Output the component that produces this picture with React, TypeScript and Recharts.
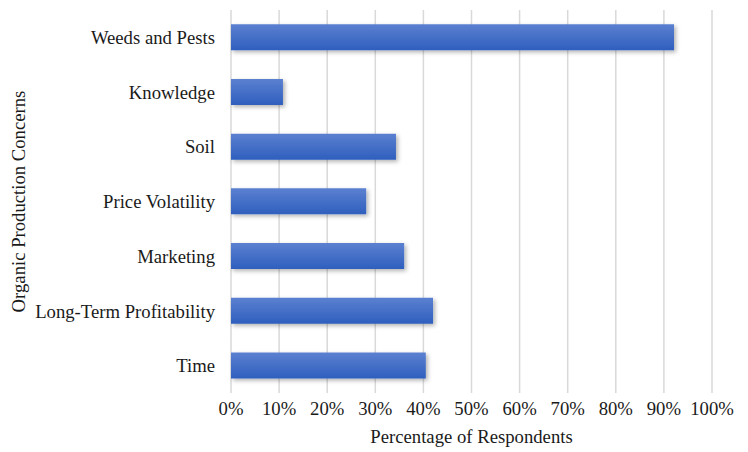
import { BarChart, Bar, XAxis, YAxis, CartesianGrid, Label } from "recharts";

const concerns = [
  "Weeds and Pests",
  "Knowledge",
  "Soil",
  "Price Volatility",
  "Marketing",
  "Long-Term Profitability",
  "Time",
];
const shares = [0.921, 0.108, 0.343, 0.281, 0.36, 0.42, 0.405];
const pctTicks = [0, 0.1, 0.2, 0.3, 0.4, 0.5, 0.6, 0.7, 0.8, 0.9, 1];

const data = concerns.map((name, i) => ({ name, value: shares[i] }));

const font = "Liberation Serif";
const fs = 18.7;

const App = () => {
  return (
    <div style={{ position: "absolute", left: 0, top: 0, background: "#fff" }}>
      <BarChart
        width={748}
        height={452}
        data={data}
        layout="vertical"
        barCategoryGap="26%"
        margin={{ top: 10, right: 36, left: 8, bottom: 9 }}
      >
        <defs>
          <linearGradient id="barFill" x1="0" y1="0" x2="0" y2="1">
            <stop offset="0%" stopColor="#5b80d0" />
            <stop offset="100%" stopColor="#2f5fbe" />
          </linearGradient>
          <filter id="barShadow" x="-5%" y="-20%" width="115%" height="160%">
            <feDropShadow dx="2" dy="2" stdDeviation="2" floodColor="#000" floodOpacity="0.3" />
          </filter>
        </defs>
        <CartesianGrid horizontal={false} stroke="#d9d9d9" strokeWidth={1.5} />
        <XAxis
          type="number"
          domain={[0, 1]}
          ticks={pctTicks}
          tickFormatter={(v: number) => `${Math.round(v * 100)}%`}
          axisLine={false}
          tickLine={false}
          tickMargin={3}
          height={50}
          tick={{ fill: "#1a1a1a", fontSize: fs, fontFamily: font }}
        >
          <Label
            content={({ viewBox }: any) => (
              <text
                x={viewBox.x + viewBox.width / 2}
                y={viewBox.y + 50}
                textAnchor="middle"
                fill="#1a1a1a"
                fontSize={fs}
                fontFamily={font}
              >
                Percentage of Respondents
              </text>
            )}
          />
        </XAxis>
        <YAxis
          type="category"
          dataKey="name"
          width={223}
          axisLine={false}
          tickLine={false}
          tickMargin={10}
          interval={0}
          tick={{ fill: "#1a1a1a", fontSize: fs, fontFamily: font }}
        >
          <Label
            content={({ viewBox }: any) => {
              const x = viewBox.x + 10;
              const y = viewBox.y + viewBox.height / 2;
              return (
                <text
                  x={x}
                  y={y}
                  transform={`rotate(-90 ${x} ${y})`}
                  textAnchor="middle"
                  dominantBaseline="central"
                  fill="#1a1a1a"
                  fontSize={fs}
                  fontFamily={font}
                >
                  Organic Production Concerns
                </text>
              );
            }}
          />
        </YAxis>
        <Bar
          dataKey="value"
          fill="url(#barFill)"
          filter="url(#barShadow)"
          isAnimationActive={false}
        />
      </BarChart>
    </div>
  );
};

export default App;
